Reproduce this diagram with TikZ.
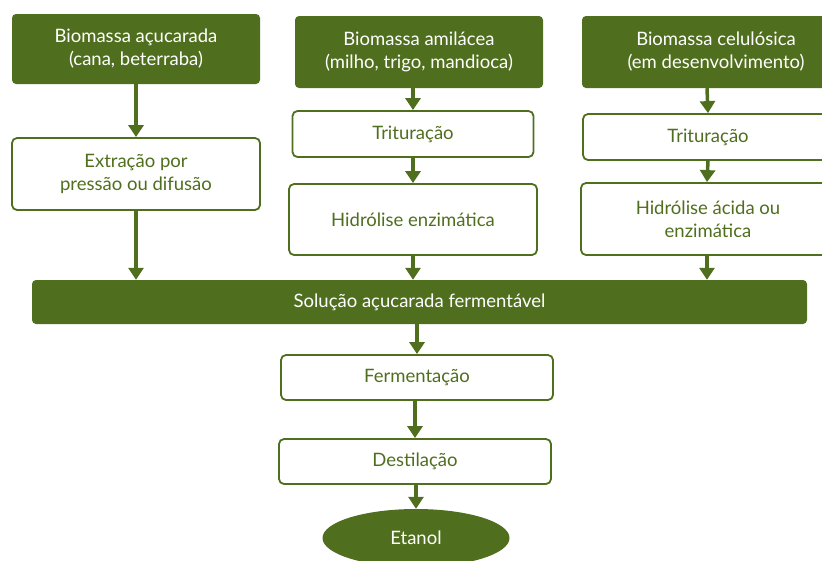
\documentclass[tikz,border=0pt]{standalone}
\usepackage{fontspec}
\setmainfont{Lato}
\usetikzlibrary{arrows.meta,shapes.geometric}
\definecolor{olive}{RGB}{80,111,30}
\tikzset{
  txt/.style={font=\fontsize{18.5}{23}\selectfont},
  darkbox/.style={txt,draw=none,fill=olive,rounded corners=4pt,text=white,align=center},
  lightbox/.style={txt,draw=olive,line width=1.8pt,fill=white,rounded corners=5pt,text=olive,align=center},
  flow/.style={draw=olive,line width=3.5pt,-{Triangle[width=15pt,length=12pt]}}
}
\begin{document}
\begin{tikzpicture}[x=1pt,y=-1pt]
\useasboundingbox (0,0) rectangle (822,560);
\clip (0,0) rectangle (822,560);
% boxes
\node[darkbox,minimum width=248pt,minimum height=70pt] (a1) at (136,49) {Biomassa açucarada\\(cana, beterraba)};
\node[darkbox,minimum width=248pt,minimum height=72pt] (b1) at (419,52) {Biomassa amilácea\\(milho, trigo, mandioca)};
\node[darkbox,minimum width=250pt,minimum height=72pt] (c1) at (707,52) {};
\node[txt,text=white,align=center] (c1t) at (716,52) {Biomassa celulósica\\(em desenvolvimento)};
\node[lightbox,minimum width=248pt,minimum height=72pt] (a2) at (136,174) {Extração por\\pressão ou difusão};
\node[lightbox,minimum width=241pt,minimum height=46pt] (b2) at (413,134) {Trituração};
\node[lightbox,minimum width=248pt,minimum height=71pt] (b3) at (413,219.5) {Hidrólise enzimática};
\node[lightbox,minimum width=250pt,minimum height=46pt] (c2) at (708,137) {};
\node[txt,text=olive] (c2t) at (708,137) {Trituração};
\node[lightbox,minimum width=252pt,minimum height=72pt] (c3) at (707,219) {};
\node[txt,text=olive,align=center] (c3t) at (708,219) {Hidrólise ácida ou\\enzimática};
\node[darkbox,minimum width=775pt,minimum height=44pt] (bar) at (419.5,302) {Solução açucarada fermentável};
\node[lightbox,minimum width=272pt,minimum height=45pt] (f) at (417,377.5) {Fermentação};
\node[lightbox,minimum width=272pt,minimum height=45pt] (d) at (415,461.5) {Destilação};
\node[txt,ellipse,fill=olive,text=white,minimum width=187pt,minimum height=58pt,inner sep=0pt] (e) at (416,538) {Etanol};
% connectors
\draw[flow] (a1.south) -- (a2.north);
\draw[flow] (a2.south) -- (a2.south |- bar.north);
\draw[flow] (b1.south -| b2.north) -- (b2.north);
\draw[flow] (b2.south) -- (b3.north);
\draw[flow] (b3.south) -- (b3.south |- bar.north);
\draw[flow] (c1.south) -- (c2.north);
\draw[flow] (c2.south) -- (c3.north);
\draw[flow] (c3.south) -- (c3.south |- bar.north);
\draw[flow] (bar.south -| f.north) -- (f.north);
\draw[flow] (f.south) -- (f.south -| d.north) -- (d.north);
\draw[flow] (d.south) -- (d.south -| e.north) -- (e.north);
\end{tikzpicture}
\end{document}
